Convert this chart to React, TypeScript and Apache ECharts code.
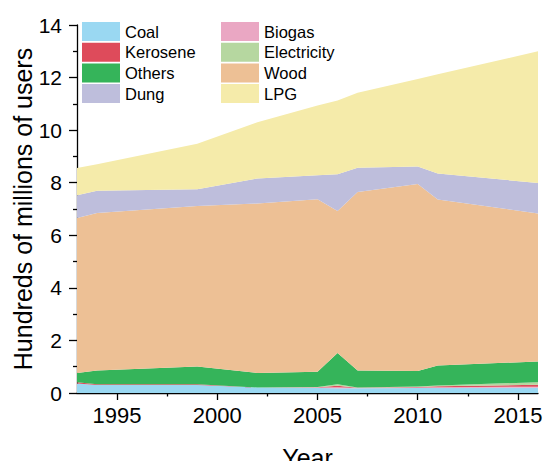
import React, { useEffect, useRef } from "react";
import * as echarts from "echarts";

const years = [1993, 1994, 1999, 2002, 2005, 2006, 2007, 2010, 2011, 2016];
const coal = [0.36, 0.30, 0.30, 0.21, 0.19, 0.18, 0.18, 0.19, 0.19, 0.20];
const biogas = [0, 0, 0, 0, 0.02, 0.04, 0.01, 0.02, 0.03, 0.04];
const kerosene = [0.05, 0.03, 0.03, 0, 0.01, 0.06, 0.01, 0.02, 0.04, 0.07];
const electricity = [0, 0, 0, 0, 0.01, 0.05, 0.01, 0.02, 0.03, 0.10];
const others = [0.35, 0.53, 0.68, 0.55, 0.58, 1.19, 0.65, 0.59, 0.76, 0.79];
const wood = [5.90, 5.99, 6.10, 6.45, 6.56, 5.40, 6.79, 7.11, 6.31, 5.63];
const dung = [0.86, 0.84, 0.64, 0.95, 0.91, 1.40, 0.92, 0.67, 0.99, 1.16];
const lpg = [1.04, 1.01, 1.73, 2.14, 2.66, 2.81, 2.85, 3.33, 3.78, 5.01];

const xMajorTicks = [1995, 2000, 2005, 2010, 2015];
const xMinorTicks = [1997.5, 2002.5, 2007.5, 2012.5];

const seriesDefs = [
  { name: "Coal", data: coal, color: "#9AD8F2" },
  { name: "Biogas", data: biogas, color: "#EAA7C3" },
  { name: "Kerosene", data: kerosene, color: "#DE4B5B" },
  { name: "Electricity", data: electricity, color: "#B6D7A0" },
  { name: "Others", data: others, color: "#35B45A" },
  { name: "Wood", data: wood, color: "#EDC095" },
  { name: "Dung", data: dung, color: "#BEBEDC" },
  { name: "LPG", data: lpg, color: "#F5EBAA" },
];

const legendCol1 = ["Coal", "Kerosene", "Others", "Dung"];
const legendCol2 = ["Biogas", "Electricity", "Wood", "LPG"];

const FONT = "Liberation Sans, Arial, sans-serif";

export default function App() {
  const ref = useRef<HTMLDivElement>(null);
  useEffect(() => {
    if (!ref.current) return;
    const chart = echarts.init(ref.current, null, { renderer: "svg" });
    const legendBase = {
      orient: "vertical" as const,
      top: 22,
      itemWidth: 38,
      itemHeight: 19,
      itemGap: 1.7,
      icon: "rect",
      selectedMode: false,
      textStyle: { fontSize: 16.5, color: "#000", fontFamily: FONT },
      itemStyle: { borderWidth: 0 },
      padding: 0,
    };
    chart.setOption({
      animation: false,
      textStyle: { fontFamily: FONT },
      grid: { left: 77, right: 5, top: 25, bottom: 68, containLabel: false, outerBoundsMode: "none" },
      legend: [
        { ...legendBase, left: 82, data: legendCol1 },
        { ...legendBase, left: 221, data: legendCol2 },
      ],
      xAxis: [
        {
          type: "value",
          min: 1993,
          max: 2016,
          name: "Year",
          nameLocation: "middle",
          nameGap: 52,
          nameMoveOverlap: false,
          nameTextStyle: { fontSize: 25, color: "#000", fontFamily: FONT },
          axisLine: { show: true, onZero: false, lineStyle: { color: "#000", width: 1.3 } },
          axisTick: { show: true, inside: false, length: 7, customValues: xMajorTicks, lineStyle: { color: "#000", width: 1.3 } },
          axisLabel: {
            customValues: xMajorTicks,
            formatter: (v: number) => String(v),
            fontSize: 22,
            color: "#000",
            margin: 11,
            fontFamily: FONT,
          },
          splitLine: { show: false },
        },
        {
          type: "value",
          min: 1993,
          max: 2016,
          position: "bottom",
          axisLine: { show: false },
          axisTick: { show: true, inside: false, length: 3.5, customValues: xMinorTicks, lineStyle: { color: "#000", width: 1.3 } },
          axisLabel: { show: false },
          splitLine: { show: false },
        },
      ],
      yAxis: {
        type: "value",
        min: 0,
        max: 14,
        interval: 2,
        name: "Hundreds of millions of users",
        nameLocation: "middle",
        nameGap: 42,
        nameMoveOverlap: false,
        nameTextStyle: { fontSize: 25, color: "#000", fontFamily: FONT },
        axisLine: { show: true, lineStyle: { color: "#000", width: 1.3 } },
        axisTick: { show: true, inside: false, length: 8, lineStyle: { color: "#000", width: 1.3 } },
        minorTick: { show: true, splitNumber: 2, length: 4, lineStyle: { color: "#000", width: 1.3 } },
        axisLabel: { fontSize: 21, color: "#000", margin: 15, fontFamily: FONT },
        splitLine: { show: false },
      },
      series: seriesDefs.map((s) => ({
        name: s.name,
        type: "line",
        stack: "total",
        xAxisIndex: 0,
        symbol: "none",
        color: s.color,
        itemStyle: { color: s.color },
        lineStyle: { width: 0, color: s.color },
        areaStyle: { color: s.color, opacity: 1 },
        encode: { x: 1, y: 0 },
        data: years.map((y, i) => [s.data[i], y]),
      })),
    });
    return () => chart.dispose();
  }, []);
  return (
    <div
      ref={ref}
      style={{ position: "fixed", left: 0, top: 0, width: 543, height: 461, background: "#fff" }}
    />
  );
}
